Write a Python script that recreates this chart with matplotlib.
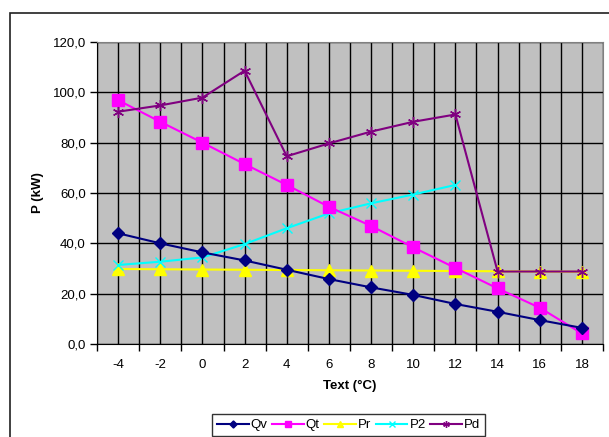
import matplotlib
matplotlib.use("Agg")
import matplotlib.pyplot as plt
from matplotlib.patches import Rectangle
from matplotlib.ticker import FixedLocator, FuncFormatter

plt.rcParams['font.family'] = ['Liberation Sans', 'DejaVu Sans']

categories = ["-4", "-2", "0", "2", "4", "6", "8", "10", "12", "14", "16", "18"]
qv = [44.0, 40.0, 36.4, 33.2, 29.5, 25.8, 22.5, 19.5, 15.9, 12.8, 9.5, 6.4]
qt = [96.9, 88.3, 80.0, 71.5, 63.2, 54.5, 46.9, 38.4, 30.2, 22.1, 14.4, 4.2]
pr = [29.8, 29.7, 29.6, 29.5, 29.4, 29.3, 29.2, 29.1, 29.0, 28.9, 28.8, 28.7]
p2 = [31.4, 32.7, 34.4, 39.7, 46.0, 51.9, 55.9, 59.4, 63.2]
pd_ = [92.3, 94.8, 97.9, 108.6, 74.6, 79.7, 84.4, 88.3, 91.2, 28.8, 28.8, 28.8]
y_ticks = [0, 20, 40, 60, 80, 100, 120]

W, H = 609, 437
fig = plt.figure(figsize=(W / 100, H / 100), dpi=100)
ax = fig.add_axes([97 / W, (H - 344) / H, (603 - 97) / W, (344 - 42) / H])
ax.set_facecolor('#c0c0c0')

x = list(range(len(categories)))
ax.plot(x, qv, color='#000080', marker='D', markersize=6, lw=1.5, label='Qv', zorder=5)
ax.plot(x, qt, color='#ff00ff', marker='s', markersize=8, lw=1.5, label='Qt', zorder=4)
ax.plot(x, pr, color='#ffff00', marker='^', markersize=8, lw=1.5, label='Pr', zorder=3)
ax.plot(x[:len(p2)], p2, color='#00ffff', marker='x', markersize=7, lw=1.5, label='P2', zorder=3)
ax.plot(x, pd_, color='#800080', marker=(6, 2, 0), markersize=8, lw=1.5, label='Pd', zorder=6)

ax.set_xlim(-0.5, len(categories) - 0.5)
ax.set_ylim(0, 120)

ax.xaxis.set_major_locator(FixedLocator(x))
ax.set_xticklabels(categories)
ax.xaxis.set_minor_locator(FixedLocator([i - 0.5 for i in range(len(categories) + 1)]))
ax.tick_params(axis='x', which='major', length=0, pad=11, labelsize=9.5)
ax.tick_params(axis='x', which='minor', length=5, direction='out', width=1)
ax.set_yticks(y_ticks)
ax.yaxis.set_major_formatter(FuncFormatter(lambda v, p: f"{v:.1f}".replace('.', ',')))
ax.tick_params(axis='y', length=5, direction='out', width=1, labelsize=9.5, pad=3)

ax.grid(True, which='both', axis='x', color='black', lw=1)
ax.grid(True, which='major', axis='y', color='black', lw=1)
ax.set_axisbelow(True)

for s in ['top', 'right']:
    ax.spines[s].set_color('#808080')
for s in ['left', 'bottom']:
    ax.spines[s].set_color('black')

ax.set_xlabel('Text (°C)', fontsize=9.5, fontweight='bold', labelpad=6)
ax.set_ylabel('P (kW)', fontsize=9.5, fontweight='bold', labelpad=6)

leg = fig.legend(loc='center', bbox_to_anchor=((213 + 484) / 2 / W, 1 - 425 / H), ncol=5,
                 fontsize=9.5, frameon=True, fancybox=False, handlelength=2.4,
                 handletextpad=0.15, columnspacing=0.35, borderpad=0.35, markerscale=0.6)
leg.get_frame().set_edgecolor('black')
leg.get_frame().set_linewidth(1)

fig.patches.append(Rectangle((10 / W, -0.1), 1.2, 1 - 13 / H + 0.1, transform=fig.transFigure,
                             fill=False, edgecolor='#202020', lw=1.2))

fig.savefig('out.png', dpi=100)
